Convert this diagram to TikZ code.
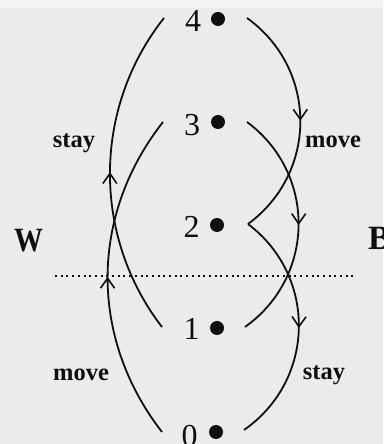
\documentclass[tikz,border=0pt]{standalone}
\usepackage{fontspec}
\setmainfont{Liberation Serif}
\usetikzlibrary{arrows.meta,decorations.markings}
\definecolor{bg}{RGB}{235,235,235}
\definecolor{bgtop}{RGB}{243,243,243}
\definecolor{ink}{RGB}{15,15,15}
\tikzset{
  pt/.style={circle,fill=ink,inner sep=0pt,minimum size=14pt},
  num/.style={anchor=base,font=\fontsize{32}{34}\selectfont,text=ink,inner sep=0pt},
  lab/.style={anchor=base,font=\fontsize{24.5}{28}\selectfont\bfseries,text=ink,inner sep=0pt},
  side/.style={anchor=base,font=\fontsize{34}{38}\selectfont\bfseries,text=ink,inner sep=0pt},
  arc/.style={draw=ink,line width=1.8pt,
    decoration={markings,mark=at position 0.5 with {\arrow{Straight Barb[length=10pt,width=14pt,line width=1.6pt]}}},
    postaction={decorate}},
  sep/.style={draw=ink,line width=2pt,dash pattern=on 2pt off 3.7pt}
}
\begin{document}
\begin{tikzpicture}[x=1pt,y=1pt]
\fill[bg] (0,0) rectangle (383,444);
\fill[bgtop] (0,436) rectangle (383,444);
\useasboundingbox (0,0) rectangle (383,444);
% dots and numbers
\node[pt] (d4) at (218,425) {};
\node[pt] (d3) at (218,322) {};
\node[pt] (d2) at (217,219) {};
\node[pt] (d1) at (217,116) {};
\node[pt] (d0) at (216,12) {};
\node[num] (n4) at (193,412) {4};
\node[num] (n3) at (192,308) {3};
\node[num] (n2) at (191.5,206) {2};
\node[num] (n1) at (191.5,104) {1};
\node[num] (n0) at (189.5,-2) {0};
% curve end points
\coordinate (L4) at (164,426);
\coordinate (L3) at (163,322);
\coordinate (L1) at (162,117);
\coordinate (L0) at (162,12);
\coordinate (R4) at (247,426);
\coordinate (R3) at (247,322);
\coordinate (R2) at (248,220);
\coordinate (R1) at (245,117);
\coordinate (R0) at (244,14);
% separator
\coordinate (sl) at (55,168);
\coordinate (sr) at (354,168);
\draw[sep] (sl) -- (sr);
% curves
\draw[arc] (L1) to[bend left=38,looseness=0.95] (L4);
\draw[arc] (L0) to[bend left=38,looseness=0.98] (L3);
\draw[arc] (R4) to[bend left=54,looseness=1.08] (R2);
\draw[arc] (R3) to[bend left=54,looseness=1.08] (R1);
\draw[arc] (R2) to[bend left=54,looseness=1.08] (R0);
% labels
\node[lab] (stayL) at (74,296) {stay};
\node[lab] (moveR) at (333,296) {move};
\node[lab] (moveL) at (81,63) {move};
\node[lab] (stayR) at (324,64) {stay};
\node[side] (W) at (28.5,192) {\scalebox{0.85}[1]{W}};
\node[side,anchor=base west] (B) at (368,194) {B};
\end{tikzpicture}
\end{document}
